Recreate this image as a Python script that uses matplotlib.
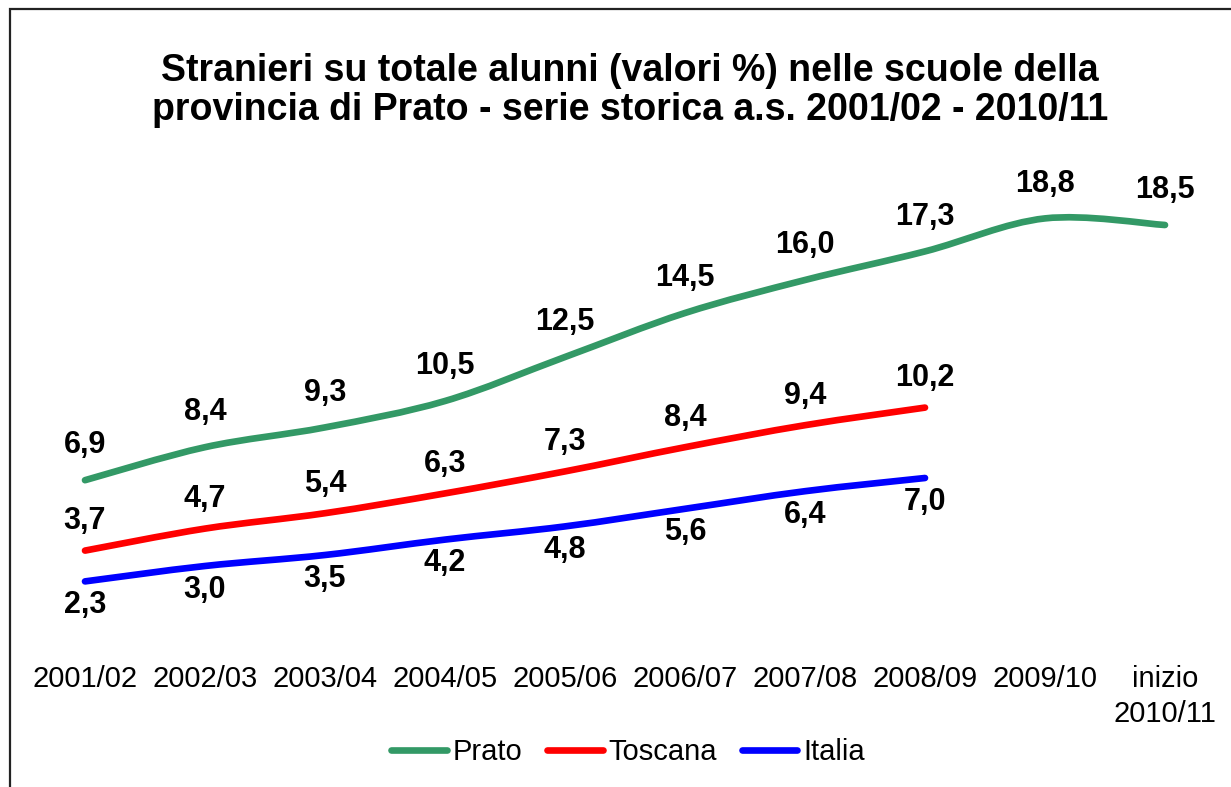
import matplotlib
matplotlib.use("Agg")
import matplotlib.pyplot as plt
from matplotlib.path import Path
from matplotlib.patches import PathPatch, Rectangle
from matplotlib.lines import Line2D

plt.rcParams['font.family'] = ['Liberation Sans', 'DejaVu Sans']

categories = ["2001/02", "2002/03", "2003/04", "2004/05", "2005/06",
              "2006/07", "2007/08", "2008/09", "2009/10", "inizio\n2010/11"]
prato = [6.9, 8.4, 9.3, 10.5, 12.5, 14.5, 16.0, 17.3, 18.8, 18.5]
toscana = [3.7, 4.7, 5.4, 6.3, 7.3, 8.4, 9.4, 10.2]
italia = [2.3, 3.0, 3.5, 4.2, 4.8, 5.6, 6.4, 7.0]
series_names = ["Prato", "Toscana", "Italia"]
title = ("Stranieri su totale alunni (valori %) nelle scuole della\n"
         "provincia di Prato - serie storica a.s. 2001/02 - 2010/11")

colors = ["#339966", "#FF0000", "#0000FF"]
label_offsets = [25, 21, -17]  # points; + above, - below

W, H = 1231, 787
fig = plt.figure(figsize=(W / 100, H / 100), dpi=100)
ax = fig.add_axes([25 / W, 1 - 632 / H, 1200 / W, 440 / H])
ax.set_xlim(-0.5, len(categories) - 0.5)
ax.set_ylim(0, 20)


def smooth_path(xs, ys):
    pts = list(zip(xs, ys))
    n = len(pts)
    verts = [pts[0]]
    codes = [Path.MOVETO]
    for i in range(n - 1):
        p0 = pts[i - 1] if i > 0 else pts[i]
        p1 = pts[i]
        p2 = pts[i + 1]
        p3 = pts[i + 2] if i + 2 < n else pts[i + 1]
        c1 = (p1[0] + (p2[0] - p0[0]) / 6, p1[1] + (p2[1] - p0[1]) / 6)
        c2 = (p2[0] - (p3[0] - p1[0]) / 6, p2[1] - (p3[1] - p1[1]) / 6)
        verts += [c1, c2, p2]
        codes += [Path.CURVE4] * 3
    return Path(verts, codes)


handles = []
for vals, name, col, off in zip([prato, toscana, italia], series_names, colors, label_offsets):
    xs = list(range(len(vals)))
    patch = PathPatch(smooth_path(xs, vals), fill=False, edgecolor=col,
                      lw=4.8, capstyle='round', joinstyle='round')
    ax.add_patch(patch)
    for x, v in zip(xs, vals):
        ax.annotate(f"{v:.1f}".replace(".", ","), (x, v), xytext=(0, off),
                    textcoords='offset points', ha='center', va='center',
                    fontsize=22, fontweight='bold', color='black')
    handles.append(Line2D([], [], color=col, lw=4.8, solid_capstyle='round', label=name))

ax.set_xticks(range(len(categories)))
ax.set_xticklabels(categories, fontsize=21, multialignment='center', linespacing=1.3)
ax.tick_params(axis='x', length=0, pad=24)
ax.set_yticks([])
for s in ax.spines.values():
    s.set_visible(False)
ax.patch.set_alpha(0)

fig.text(630 / W, 1 - 120 / H, title, ha='center', va='baseline', fontsize=27,
         fontweight='bold', linespacing=1.1)

fig.legend(handles=handles, loc='center', bbox_to_anchor=(628 / W, 1 - 752 / H),
           ncol=3, frameon=False, fontsize=21, handlelength=1.9,
           handletextpad=0.2, columnspacing=0.85)

fig.add_artist(Rectangle((10 / W, -0.1), 1.2, 1 - 9 / H + 0.1, transform=fig.transFigure,
                         fill=False, edgecolor='#222222', lw=1.6))

fig.savefig("out.png", dpi=100)
